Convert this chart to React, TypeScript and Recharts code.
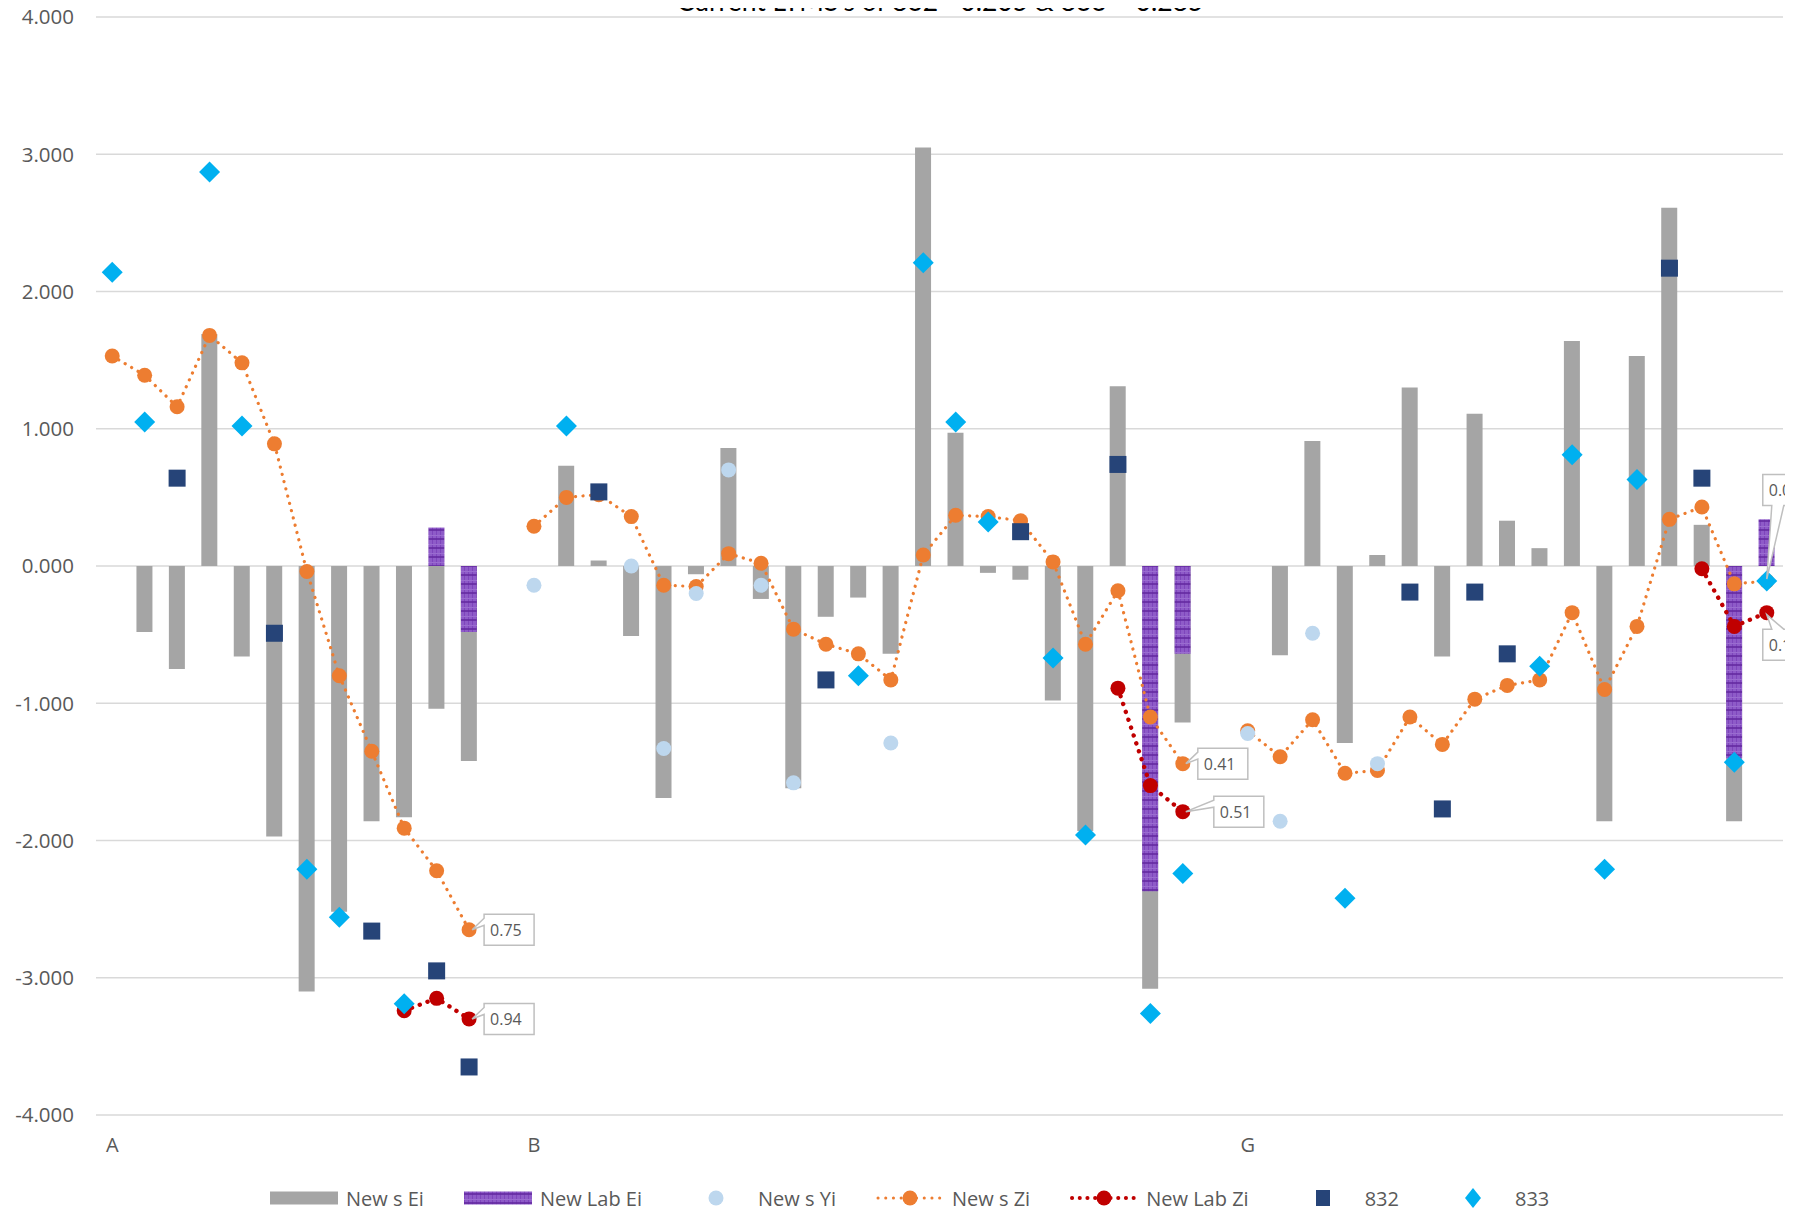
import React from "react";
import { Bar, CartesianGrid, ComposedChart, Line, XAxis, YAxis } from "recharts";

// category slots along the x axis (only a few carry a label)
const categories = [
  "A", "", "", "", "", "", "", "", "", "", "", "", "",
  "B", "", "", "", "", "", "", "", "", "", "", "", "", "", "", "", "", "", "", "", "", "",
  "G", "", "", "", "", "", "", "", "", "", "", "", "", "", "", "", "",
];

const newsEi = [
  null, -0.48, -0.75, 1.69, -0.66, -1.97, -3.1, -2.52, -1.86, -1.83, -1.04, -1.42,
  null, null,
  0.73, 0.04, -0.51, -1.69, -0.06, 0.86, -0.24, -1.62, -0.37, -0.23, -0.64,
  3.05, 0.97, -0.05, -0.1, -0.98, -1.93, 1.31, -3.08, -1.14,
  null, null,
  -0.65, 0.91, -1.29, 0.08, 1.3, -0.66, 1.11, 0.33, 0.13, 1.64, -1.86, 1.53, 2.61, 0.3, -1.86,
  null,
];

const newLabEi: Record<number, number> = { 10: 0.28, 11: -0.48, 32: -2.37, 33: -0.64, 50: -1.4, 51: 0.34 };

const newsYi: Record<number, number> = {
  13: -0.14, 16: 0.0, 17: -1.33, 18: -0.2, 19: 0.7, 20: -0.14, 21: -1.58, 24: -1.29,
  35: -1.22, 36: -1.86, 37: -0.49, 39: -1.44,
};

const newsZi = [
  1.53, 1.39, 1.16, 1.68, 1.48, 0.89, -0.04, -0.8, -1.35, -1.91, -2.22, -2.65,
  null,
  0.29, 0.5, 0.52, 0.36, -0.14, -0.15, 0.09, 0.02, -0.46, -0.57, -0.64, -0.83,
  0.08, 0.37, 0.36, 0.33, 0.03, -0.57, -0.18, -1.1, -1.44,
  null,
  -1.2, -1.39, -1.12, -1.51, -1.49, -1.1, -1.3, -0.97, -0.87, -0.83, -0.34, -0.9, -0.44, 0.34, 0.43, -0.13, -0.11,
];

const newLabZi: Record<number, number> = {
  9: -3.24, 10: -3.15, 11: -3.3, 31: -0.89, 32: -1.6, 33: -1.79, 49: -0.02, 50: -0.44, 51: -0.34,
};

const series832: Record<number, number> = {
  2: 0.64, 5: -0.49, 8: -2.66, 10: -2.95, 11: -3.65, 15: 0.54, 22: -0.83, 28: 0.25, 31: 0.74,
  40: -0.19, 41: -1.77, 42: -0.19, 43: -0.64, 48: 2.17, 49: 0.64,
};

const series833: Record<number, number> = {
  0: 2.14, 1: 1.05, 3: 2.87, 4: 1.02, 6: -2.21, 7: -2.56, 9: -3.19, 14: 1.02, 23: -0.8,
  25: 2.21, 26: 1.05, 27: 0.32, 29: -0.67, 30: -1.96, 32: -3.26, 33: -2.24, 38: -2.42,
  44: -0.73, 45: 0.81, 46: -2.21, 47: 0.63, 50: -1.43, 51: -0.11,
};

// callout texts on the two Zi series
const ziLabels: Record<number, string> = { 11: "0.75", 33: "0.41", 51: "0.08" };
const labZiLabels: Record<number, string> = { 11: "0.94", 33: "0.51", 51: "0.13" };

const yTicks = [-4, -3, -2, -1, 0, 1, 2, 3, 4];

const rows = categories.map((cat, i) => ({
  slot: i,
  ei: newsEi[i],
  labEi: newLabEi[i] ?? null,
  yi: newsYi[i] ?? null,
  zi: newsZi[i],
  labZi: newLabZi[i] ?? null,
  s832: series832[i] ?? null,
  s833: series833[i] ?? null,
}));

const FONT = "'Open Sans', 'Noto Sans', sans-serif";
const TEXT = "#595959";
const GRAY = "#A5A5A5";
const ORANGE = "#ED7D31";
const RED = "#C00000";
const NAVY = "#264478";
const CYAN = "#00B0F0";
const LIGHT = "#BDD7EE";

type Place = { side: "left" | "top" | "bottom"; dx: number; dy: number };
const ziPlaces: Record<number, Place> = {
  11: { side: "left", dx: 15, dy: 0 },
  33: { side: "left", dx: 15, dy: 0 },
  51: { side: "bottom", dx: -4, dy: -91 },
};
const labZiPlaces: Record<number, Place> = {
  11: { side: "left", dx: 15, dy: 0 },
  33: { side: "left", dx: 31, dy: 0 },
  51: { side: "top", dx: -4, dy: 32 },
};

const empty = (p: any, tag: string) => <g key={`${tag}-${p.index}`} />;

const circleDot = (fill: string, r: number, tag: string) => (p: any) => {
  if (p.value == null || p.cy == null) return empty(p, tag);
  return <circle key={`${tag}-${p.index}`} cx={p.cx} cy={p.cy} r={r} fill={fill} />;
};

const squareDot = (p: any) => {
  if (p.value == null || p.cy == null) return empty(p, "sq");
  const s = 17;
  return <rect key={`sq-${p.index}`} x={p.cx - s / 2} y={p.cy - s / 2} width={s} height={s} fill={NAVY} />;
};

const diamondDot = (p: any) => {
  if (p.value == null || p.cy == null) return empty(p, "dm");
  const h = 10.5;
  const { cx, cy } = p;
  return (
    <path
      key={`dm-${p.index}`}
      d={`M${cx},${cy - h} L${cx + h},${cy} L${cx},${cy + h} L${cx - h},${cy} Z`}
      fill={CYAN}
    />
  );
};

const calloutDot = (labels: Record<number, string>, places: Record<number, Place>, tag: string) => (p: any) => {
  const text = labels[p.index];
  const place = places[p.index];
  if (!text || !place || p.cy == null) return empty(p, tag);
  const w = 50;
  const h = 31;
  const { cx, cy } = p;
  const bx = cx + place.dx;
  const by = cy + place.dy - h / 2;
  let d = "";
  if (place.side === "left") {
    d = `M${bx},${by} H${bx + w} V${by + h} H${bx} V${by + 11} L${cx + 3},${cy} L${bx},${by + 4} Z`;
  } else if (place.side === "bottom") {
    d = `M${bx},${by} H${bx + w} V${by + h} H${bx + 21} L${cx},${cy - 2} L${bx + 9},${by + h} H${bx} Z`;
  } else {
    d = `M${bx},${by} H${bx + 9} L${cx},${cy + 2} L${bx + 21},${by} H${bx + w} V${by + h} H${bx} Z`;
  }
  return (
    <g key={`${tag}-${p.index}`}>
      <path d={d} fill="#FFFFFF" stroke="#BFBFBF" strokeWidth={1.5} />
      <text
        x={bx + 6}
        y={by + h / 2}
        textAnchor="start"
        dominantBaseline="central"
        fontFamily={FONT}
        fontSize={16}
        fill={TEXT}
      >
        {text}
      </text>
    </g>
  );
};

function LabPattern({ id }: { id: string }) {
  return (
    <pattern id={id} width="4" height="9" patternUnits="userSpaceOnUse">
      <rect width="4" height="9" fill="#8E5BC8" />
      <path d="M0.5 0V9" stroke="#7E45BC" strokeWidth="1" />
      <path d="M0 4.5H4" stroke="#9A6CD0" strokeWidth="1" />
      <path d="M0 8H4" stroke="#6428A0" strokeWidth="1.6" />
    </pattern>
  );
}

const legendItems = [
  { label: "New s Ei", kind: "bar" },
  { label: "New Lab Ei", kind: "lab" },
  { label: "New s Yi", kind: "yi" },
  { label: "New s Zi", kind: "zi" },
  { label: "New Lab Zi", kind: "labzi" },
  { label: "832", kind: "sq" },
  { label: "833", kind: "dm" },
];

function LegendSymbol({ kind }: { kind: string }) {
  const W = 68;
  const H = 24;
  const c = H / 2;
  let body: React.ReactNode = null;
  if (kind === "bar") body = <rect x={0} y={c - 6.5} width={W} height={13} fill={GRAY} />;
  if (kind === "lab") body = <rect x={0} y={c - 6.5} width={W} height={13} fill="url(#labPatLegend)" />;
  if (kind === "yi") body = <circle cx={W / 2} cy={c} r={7.5} fill={LIGHT} />;
  if (kind === "zi" || kind === "labzi") {
    const col = kind === "zi" ? ORANGE : RED;
    body = (
      <>
        <line x1={2} y1={c} x2={W - 2} y2={c} stroke={col} strokeWidth={kind === "zi" ? 3 : 4}
          strokeDasharray="0.1 7.6" strokeLinecap="round" />
        <circle cx={W / 2} cy={c} r={7.5} fill={col} />
      </>
    );
  }
  if (kind === "sq") body = <rect x={W / 2 - 7} y={c - 8} width={14} height={16} fill={NAVY} />;
  if (kind === "dm")
    body = <path d={`M${W / 2},${c - 10} L${W / 2 + 8},${c} L${W / 2},${c + 10} L${W / 2 - 8},${c} Z`} fill={CYAN} />;
  return (
    <svg width={W} height={H} style={{ display: "block" }}>
      <defs>
        <LabPattern id="labPatLegend" />
      </defs>
      {body}
    </svg>
  );
}

export default function App() {
  return (
    <div style={{ position: "relative", width: 1793, height: 1217, margin: -8, overflow: "hidden", background: "#fff" }}>
      <ComposedChart
        width={1793}
        height={1217}
        data={rows}
        margin={{ top: 17, right: 10, bottom: 62, left: 0 }}
        barGap={-16}
      >
        <defs>
          <LabPattern id="labPat" />
        </defs>
        <CartesianGrid vertical={false} stroke="#D9D9D9" strokeWidth={1.5} />
        <XAxis
          dataKey="slot"
          type="category"
          interval={0}
          tickFormatter={(v: number) => categories[v]}
          axisLine={false}
          tickLine={false}
          tickSize={0}
          tickMargin={23}
          height={40}
          tick={{ fontFamily: FONT, fontSize: 20, fill: TEXT }}
        />
        <YAxis
          domain={[-4, 4]}
          ticks={yTicks}
          tickFormatter={(v: number) => v.toFixed(3)}
          axisLine={false}
          tickLine={false}
          tickSize={0}
          tickMargin={22}
          width={96}
          tick={{ fontFamily: FONT, fontSize: 20.5, fill: TEXT }}
        />
        <Bar dataKey="ei" fill={GRAY} barSize={16} isAnimationActive={false} />
        <Bar dataKey="labEi" fill="url(#labPat)" barSize={16} isAnimationActive={false} />
        <Line
          dataKey="zi"
          type="linear"
          stroke={ORANGE}
          strokeWidth={3.2}
          strokeDasharray="0.1 7.4"
          strokeLinecap="round"
          dot={circleDot(ORANGE, 7.5, "zi")}
          activeDot={false}
          isAnimationActive={false}
        />
        <Line
          dataKey="labZi"
          type="linear"
          stroke={RED}
          strokeWidth={4.4}
          strokeDasharray="0.1 8.2"
          strokeLinecap="round"
          dot={circleDot(RED, 7.5, "lz")}
          activeDot={false}
          isAnimationActive={false}
        />
        <Line dataKey="yi" stroke="none" dot={circleDot(LIGHT, 7.5, "yi")} activeDot={false} isAnimationActive={false} />
        <Line dataKey="s832" stroke="none" dot={squareDot} activeDot={false} isAnimationActive={false} />
        <Line dataKey="s833" stroke="none" dot={diamondDot} activeDot={false} isAnimationActive={false} />
        <Line
          dataKey="zi"
          stroke="none"
          dot={calloutDot(ziLabels, ziPlaces, "czi")}
          activeDot={false}
          legendType="none"
          isAnimationActive={false}
        />
        <Line
          dataKey="labZi"
          stroke="none"
          dot={calloutDot(labZiLabels, labZiPlaces, "clz")}
          activeDot={false}
          legendType="none"
          isAnimationActive={false}
        />
      </ComposedChart>

      <svg width={1793} height={30} style={{ position: "absolute", left: 0, top: 0 }}>
        <text x={940} y={10.5} textAnchor="middle" fontFamily="Lato, 'Open Sans', sans-serif" fontSize={26.5} fill="#000">
          Current LTMS's of 832 =0.205 &amp; 833 = 0.285
        </text>
      </svg>

      <div
        style={{
          position: "absolute",
          left: 270,
          top: 1186,
          height: 24,
          display: "flex",
          alignItems: "center",
          fontFamily: FONT,
          fontSize: 20,
          color: TEXT,
          whiteSpace: "nowrap",
        }}
      >
        {legendItems.map((it) => (
          <div key={it.label} style={{ display: "flex", alignItems: "center", marginRight: 40 }}>
            <LegendSymbol kind={it.kind} />
            <span style={{ marginLeft: 8 }}>{it.label}</span>
          </div>
        ))}
      </div>
    </div>
  );
}
